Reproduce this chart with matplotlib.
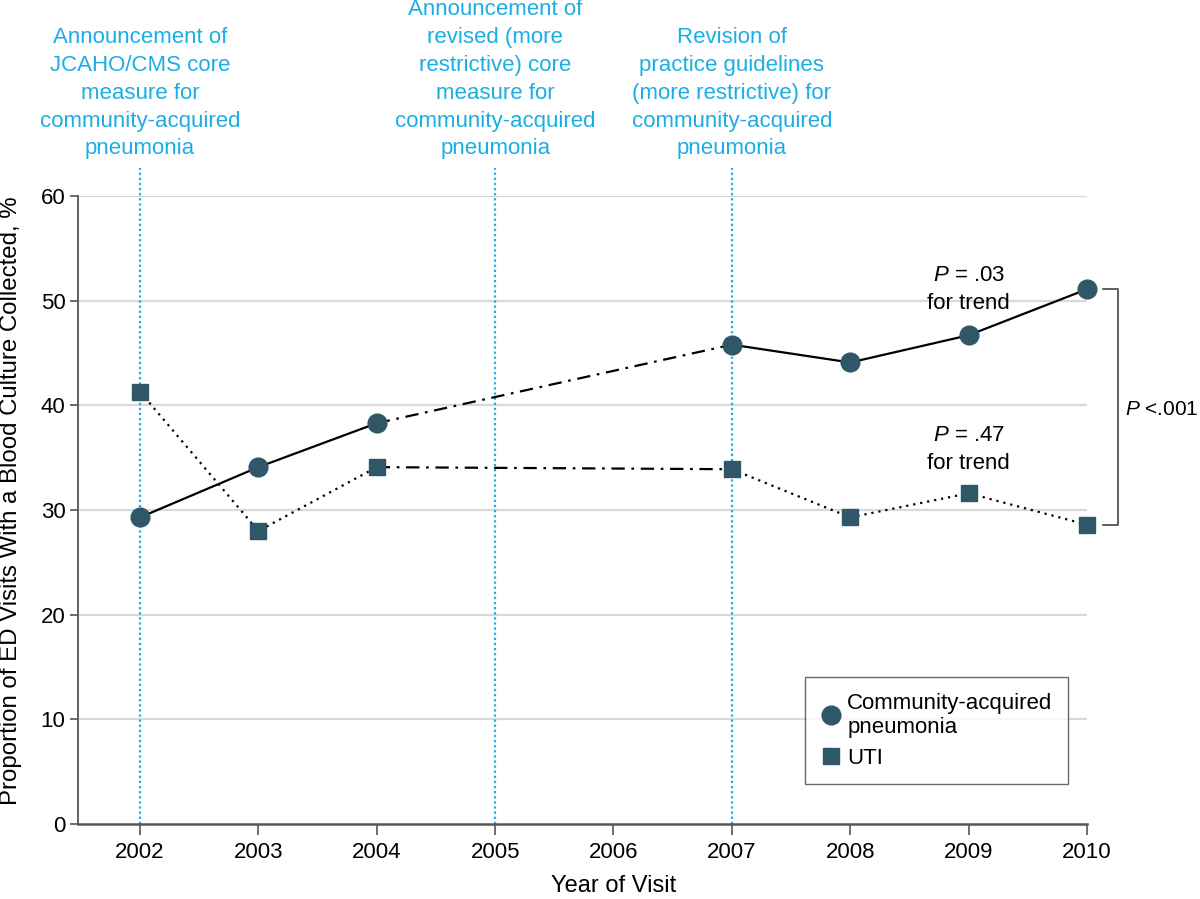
import matplotlib.pyplot as plt

plt.rcParams['font.family'] = ['Liberation Sans', 'DejaVu Sans']
plt.rcParams['mathtext.fontset'] = 'custom'
plt.rcParams['mathtext.rm'] = 'Liberation Sans'
plt.rcParams['mathtext.it'] = 'Liberation Sans:italic'

# data
years = [2002, 2003, 2004, 2007, 2008, 2009, 2010]
cap = [29.3, 34.1, 38.3, 45.8, 44.1, 46.7, 51.1]
uti = [41.3, 28.0, 34.1, 33.9, 29.3, 31.6, 28.6]
event_years = [2002, 2005, 2007]
event_labels = [
    "Announcement of\nJCAHO/CMS core\nmeasure for\ncommunity-acquired\npneumonia",
    "Announcement of\nrevised (more\nrestrictive) core\nmeasure for\ncommunity-acquired\npneumonia",
    "Revision of\npractice guidelines\n(more restrictive) for\ncommunity-acquired\npneumonia",
]
xticks = list(range(2002, 2011))
yticks = [0, 10, 20, 30, 40, 50, 60]

mcol = '#2f5767'
blue = '#1aaee6'
fs = 16

fig = plt.figure(figsize=(12, 8.99), dpi=100)
ax = fig.add_axes([0.065, 0.0834, 0.8408, 0.6985])

ax.set_xlim(2001.476, 2010)
ax.set_ylim(0, 60)

# gridlines
for y in yticks[1:]:
    ax.axhline(y, color='#d9d9d9', lw=1.6, zorder=0)

# event lines, extending above the axes
for ey, lab in zip(event_years, event_labels):
    ax.plot([ey, ey], [0, 62.7], color=blue, lw=1.6, ls=(0, (1, 1.3)),
            clip_on=False, zorder=1)
    ax.text(ey, 63.5, lab, color=blue, fontsize=fs, ha='center', va='bottom',
            linespacing=1.43, clip_on=False)

# line segments: before / gap (dash-dot) / after
dashdot = (0, (6, 3, 1.2, 3))
ax.plot(years[0:3], cap[0:3], color='black', lw=1.6, zorder=2)
ax.plot(years[2:4], cap[2:4], color='black', lw=1.6, ls=dashdot, zorder=2)
ax.plot(years[3:], cap[3:], color='black', lw=1.6, zorder=2)
ax.plot(years[0:3], uti[0:3], color='black', lw=1.6, ls=(0, (1, 2.2)), zorder=2)
ax.plot(years[2:4], uti[2:4], color='black', lw=1.6, ls=dashdot, zorder=2)
ax.plot(years[3:], uti[3:], color='black', lw=1.6, ls=(0, (1, 2.2)), zorder=2)

ax.plot(years, cap, ls='none', marker='o', ms=13.5, color=mcol,
        label='Community-acquired\npneumonia', zorder=3, clip_on=False)
ax.plot(years, uti, ls='none', marker='s', ms=11.5, color=mcol,
        label='UTI', zorder=3, clip_on=False)

# trend annotations
ax.text(2009, 51.1, '$\\mathit{P}$ = .03\nfor trend', fontsize=fs,
        ha='center', va='center', linespacing=1.45)
ax.text(2009, 35.8, '$\\mathit{P}$ = .47\nfor trend', fontsize=fs,
        ha='center', va='center', linespacing=1.45)

# bracket between final points
bx0, bx1 = 2010.135, 2010.26
ax.plot([bx0, bx1, bx1, bx0], [cap[-1], cap[-1], uti[-1], uti[-1]],
        color='#444444', lw=1.2, clip_on=False)
ax.text(2010.32, 39.6, '$\\mathit{P}$ <.001', fontsize=15, ha='left',
        va='center', clip_on=False)

# axes styling
for s in ['top', 'right']:
    ax.spines[s].set_visible(False)
ax.spines['left'].set_color('#555555')
ax.spines['left'].set_linewidth(1.3)
ax.spines['bottom'].set_color('#555555')
ax.spines['bottom'].set_linewidth(1.8)
ax.set_xticks(xticks)
ax.set_yticks(yticks)
ax.tick_params(axis='x', length=8, width=1.2, color='#555555', labelsize=fs, pad=5)
ax.tick_params(axis='y', length=6, width=1.2, color='#555555', labelsize=fs, pad=3)

fig.text(0.511, 0.0145, 'Year of Visit', fontsize=17, ha='center', va='center')
fig.text(0.009, 0.443, 'Proportion of ED Visits With a Blood Culture Collected, %',
         fontsize=17.3, rotation=90, ha='center', va='center')

leg = ax.legend(loc='upper left', bbox_to_anchor=(0.7205, 0.234), fontsize=fs,
                frameon=True, fancybox=False, handlelength=0.9,
                handletextpad=0.3, borderpad=0.7, labelspacing=0.45,
                borderaxespad=0, numpoints=1)
leg.get_frame().set_edgecolor('#444444')
leg.get_frame().set_linewidth(1.0)

fig.savefig('out.png', dpi=100)
